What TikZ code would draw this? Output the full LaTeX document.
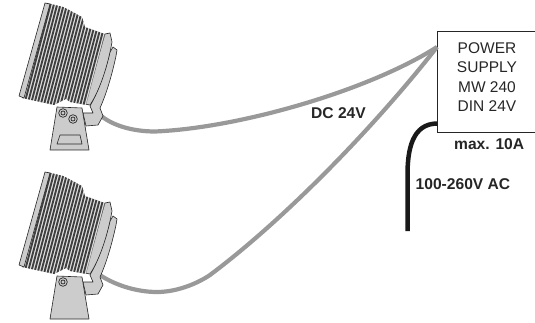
\documentclass[tikz,border=0pt]{standalone}
\usepackage{fontspec}
\setmainfont{Liberation Sans}
\definecolor{lampgray}{gray}{0.8}
\definecolor{cablegray}{gray}{0.6}
\definecolor{fin}{gray}{0.25}
\tikzset{
 part/.style={draw=black!85,line width=0.6pt,fill=lampgray,line join=round},
 cable/.style={draw=cablegray,line width=4.2pt},
 mains/.style={draw=black!90,line width=4.5pt},
 boxlabel/.style={font=\fontsize{15.5}{19.3}\selectfont,align=center,text=black!85},
 bold label/.style={font=\fontsize{15.6}{17}\selectfont\bfseries,text=black!85}
}
\newcommand{\lamphead}[1]{%
\begin{scope}[yshift=#1]
 \draw[part] (110,52) -- (113,47) -- (117,50) -- (116,56) .. controls (112,75) and (106,95) .. (100,108) -- (103,116) -- (98,125) -- (86,126) -- (83,113) -- (93,113) -- (90,106) .. controls (98,92) and (105,72) .. cycle;
 \draw[part] (105,34) -- (110,33) -- (112,42) .. controls (108,65) and (100,90) .. (90,105) -- (84,104) -- cycle;
 \begin{scope}
  \clip (47,3) -- (63,7) -- (71,11) -- (82,17) -- (85,27) -- (105,34) -- (86,105) -- (70,102) -- (66,99) -- (54,105) -- (22,98) -- cycle;
  \fill[gray!22] (10,-5) rectangle (125,115);
  \foreach \i in {0,...,20}{
   \draw[fin,line width=1.9pt] ({49+3.3*\i},-2) -- ({20+3.3*\i},108);
  }
 \end{scope}
 \draw[part] (45,3) -- (50,4) -- (24,98) -- (19,96) -- cycle;
\end{scope}}
\begin{document}
\begin{tikzpicture}[x=1pt,y=-1pt]
\useasboundingbox (0,0) rectangle (535,323);
\node[draw=black!85,line width=0.7pt,minimum width=98pt,minimum height=101pt,anchor=north west,inner sep=0pt] (psu) at (437,31) {};
\node[boxlabel,inner sep=0pt] (psutext) at (487,77) {POWER\\SUPPLY\\MW 240\\DIN 24V};
\coordinate (c1) at (97,112);
\coordinate (c2) at (97,273);
\coordinate (c3) at (407.5,231);
\coordinate (feed) at (437,47);
\coordinate (inlet) at (437.5,123.5);
\draw[cable] (c1) .. controls (108,124) and (130,131.5) .. (155,131.5) .. controls (240,128) and (370,90) .. (feed);
\draw[cable] (c2) .. controls (112,284) and (135,292) .. (157,292) .. controls (175,292) and (195,285) .. (210,275) .. controls (290,215) and (380,120) .. (feed);
\draw[mains] (c3) -- (407.5,175) .. controls (407.5,150) and (412,123.5) .. (inlet);
\lamphead{0pt}
\lamphead{-169pt}
% base of the upper lamp
\draw[part] (57,107) -- (82,108) -- (89,150) -- (50,150) -- cycle;
\draw[part] (60,135) -- (80,135) -- (82,144) -- (57,144) -- cycle;
\foreach \p in {(63,113),(73,119)}{
 \draw[part,line width=0.7pt] \p circle (4.3pt);
 \draw[part,line width=0.7pt] \p circle (2pt);
}
% base of the lower lamp
\draw[part] (57,276) -- (82,277) -- (89,319) -- (50,319) -- cycle;
\draw[part,line width=0.7pt] (63,282) circle (4.3pt);
\draw[part,line width=0.7pt] (63,282) circle (2pt);
\node[bold label,anchor=west,inner sep=0pt] (dc) at (311,113) {DC 24V};
\node[bold label,anchor=west,inner sep=0pt] (mx) at (454,144) {max. 10A};
\node[bold label,anchor=west,inner sep=0pt] (ac) at (415.5,184) {100-260V AC};
\end{tikzpicture}
\end{document}
